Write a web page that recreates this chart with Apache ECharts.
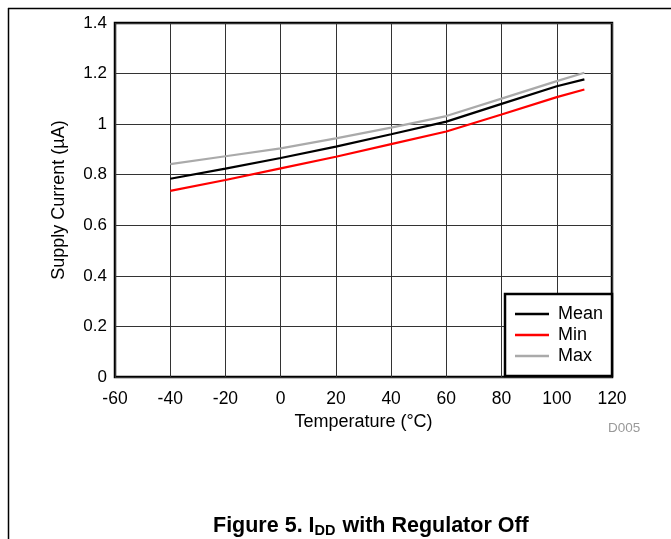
<!DOCTYPE html>
<html>
<head>
<meta charset="utf-8">
<script src="https://cdn.jsdelivr.net/npm/echarts@6/dist/echarts.min.js"></script>
<style>
html,body{margin:0;padding:0;background:#fff;}
#chart{width:671px;height:539px;}
</style>
</head>
<body>
<div id="chart"></div>
<script>
const temperatures = [-40, -20, 0, 20, 40, 60, 80, 100, 110];
const meanValues = [0.784, 0.824, 0.866, 0.911, 0.960, 1.010, 1.080, 1.150, 1.177];
const minValues  = [0.736, 0.779, 0.825, 0.871, 0.921, 0.971, 1.038, 1.107, 1.137];
const maxValues  = [0.842, 0.873, 0.904, 0.944, 0.986, 1.032, 1.101, 1.170, 1.203];
const xTicks = [-60, -40, -20, 0, 20, 40, 60, 80, 100, 120];
const yTicks = [0, 0.2, 0.4, 0.6, 0.8, 1, 1.2, 1.4];

const font = 'Liberation Sans, Arial, sans-serif';
const pair = arr => temperatures.map((t, i) => [t, arr[i]]);

const chart = echarts.init(document.getElementById('chart'));
chart.setOption({
  animation: false,
  backgroundColor: '#fff',
  textStyle: { fontFamily: font },
  grid: {
    left: 115, top: 23, right: 59, bottom: 162,
    show: true, borderColor: '#000', borderWidth: 2.5, containLabel: false
  },
  xAxis: {
    type: 'value', min: xTicks[0], max: xTicks[xTicks.length - 1], interval: 20,
    name: 'Temperature (°C)', nameLocation: 'middle', nameGap: 32,
    nameTextStyle: { color: '#000', fontSize: 18, fontFamily: font },
    axisLine: { show: false }, axisTick: { show: false },
    axisLabel: { color: '#000', fontSize: 17.5, margin: 13, fontFamily: font },
    splitLine: { show: true, lineStyle: { color: '#333', width: 1 } }
  },
  yAxis: {
    type: 'value', min: yTicks[0], max: yTicks[yTicks.length - 1], interval: 0.2,
    name: 'Supply Current (µA)', nameLocation: 'middle', nameGap: 47,
    nameTextStyle: { color: '#000', fontSize: 18, fontFamily: font },
    axisLine: { show: false }, axisTick: { show: false },
    axisLabel: { color: '#000', fontSize: 17, margin: 8, fontFamily: font },
    splitLine: { show: true, lineStyle: { color: '#333', width: 1 } }
  },
  legend: {
    orient: 'vertical', left: 505, top: 294,
    backgroundColor: '#fff', borderColor: '#000', borderWidth: 2.5,
    padding: [11, 9, 11, 10], itemGap: 3,
    icon: 'rect', itemWidth: 34, itemHeight: 2.5,
    textStyle: { color: '#000', fontSize: 18, fontFamily: font, padding: [0, 0, 0, 4] },
    data: ['Mean', 'Min', 'Max']
  },
  series: [
    { name: 'Mean', type: 'line', data: pair(meanValues), showSymbol: false, symbol: 'none',
      lineStyle: { color: '#000', width: 2.2 }, itemStyle: { color: '#000' }, z: 4 },
    { name: 'Min', type: 'line', data: pair(minValues), showSymbol: false, symbol: 'none',
      lineStyle: { color: '#ff0000', width: 2.2 }, itemStyle: { color: '#ff0000' }, z: 3 },
    { name: 'Max', type: 'line', data: pair(maxValues), showSymbol: false, symbol: 'none',
      lineStyle: { color: '#aaaaaa', width: 2.2 }, itemStyle: { color: '#aaaaaa' }, z: 2 }
  ],
  graphic: [
    { type: 'line', shape: { x1: 8, y1: 8.5, x2: 671, y2: 8.5 }, style: { stroke: '#000', lineWidth: 1.5 } },
    { type: 'line', shape: { x1: 8.5, y1: 8, x2: 8.5, y2: 539 }, style: { stroke: '#000', lineWidth: 1.5 } },
    { type: 'text', left: 608, top: 421,
      style: { text: 'D005', fill: '#999', fontSize: 13.5, fontFamily: font } },
    { type: 'text', left: 213, top: 515,
      style: {
        text: '{a|Figure 5. I}{b|DD}{a| with Regulator Off}',
        fontFamily: font,
        rich: {
          a: { fontSize: 21.5, fontWeight: 'bold', fill: '#000', fontFamily: font },
          b: { fontSize: 14.5, fontWeight: 'bold', fill: '#000', fontFamily: font, padding: [10, 1, 0, 0] }
        }
      } }
  ]
});
</script>
</body>
</html>
